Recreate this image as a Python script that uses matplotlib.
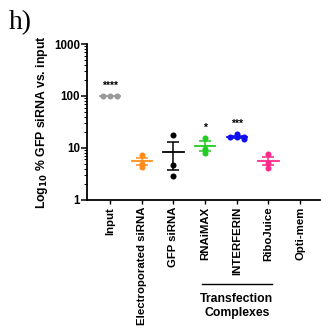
import numpy as np
import matplotlib
matplotlib.use("Agg")
import matplotlib.pyplot as plt
import matplotlib.transforms as mtransforms
from matplotlib.ticker import LogLocator, NullFormatter, FixedLocator, FixedFormatter

plt.rcParams['font.family'] = ['Liberation Sans', 'DejaVu Sans']
plt.rcParams['font.weight'] = 'bold'

# data
categories = ["Input", "Electroporated siRNA", "GFP siRNA", "RNAiMAX",
              "INTERFERIN", "RiboJuice", "Opti-mem"]
values = [
    [100, 100, 100],
    [7.3, 5.0, 4.3],
    [17.8, 4.7, 2.9],
    [15.8, 9.4, 7.9],
    [18.6, 16.0, 14.8, 16.5, 16.3],
    [7.6, 5.1, 4.2],
    [],
]
colors = ["#999999", "#ff8c1a", "#000000", "#22cc22", "#1010ee", "#ff2a8a", "#000000"]
stars = ["****", "", "", "*", "***", "", ""]
ytick_vals = [1, 10, 100, 1000]
ytick_labels = ["1", "10", "100", "1000"]


def swarm(vals, x0, dx=0.22, min_dist=0.035):
    # simple beeswarm: offset points that sit too close in log space
    placed = []
    xs = []
    for v in vals:
        lv = np.log10(v)
        for k in [0, 1, -1, 2, -2, 3, -3]:
            off = k * dx
            ok = all(abs(lv - pl) > min_dist or abs(off - po) >= dx * 0.99
                     for pl, po in placed)
            if ok:
                break
        placed.append((lv, off))
        xs.append(x0 + off)
    return xs


fig = plt.figure(figsize=(3.21, 3.31), dpi=100)
ax = fig.add_axes([0.271, 0.396, 0.726, 0.471])
ax.set_yscale('log')
ax.set_ylim(1, 1000)
ax.set_xlim(-0.73, 6.63)

for i, (vals, c) in enumerate(zip(values, colors)):
    if not vals:
        continue
    arr = np.array(vals, dtype=float)
    xs = swarm(arr, i)
    ax.scatter(xs, arr, s=19, color=c, zorder=3, linewidths=0)
    m = arr.mean()
    sem = arr.std(ddof=1) / np.sqrt(len(arr))
    ax.plot([i - 0.32, i + 0.32], [m, m], color=c, lw=1.3, zorder=2)
    if sem > 0:
        ax.errorbar(i, m, yerr=sem, color=c, lw=1.1, capsize=4.5, capthick=1.1,
                    fmt='none', zorder=2)
    if stars[i]:
        top = arr.max() if sem == 0 else max(arr.max(), m + sem)
        ax.text(i, top * 1.25, stars[i], ha='center', va='bottom',
                fontsize=7.5, fontweight='bold')

ax.spines['top'].set_visible(False)
ax.spines['right'].set_visible(False)
ax.spines['left'].set_linewidth(1.3)
ax.spines['bottom'].set_linewidth(1.3)

ax.yaxis.set_major_locator(FixedLocator(ytick_vals))
ax.yaxis.set_major_formatter(FixedFormatter(ytick_labels))
ax.yaxis.set_minor_locator(LogLocator(base=10, subs=np.arange(2, 10)))
ax.yaxis.set_minor_formatter(NullFormatter())
ax.tick_params(axis='y', which='major', length=4, width=1.1, labelsize=8.3, pad=1)
ax.tick_params(axis='y', which='minor', length=2, width=0.7)

ax.set_xticks(range(len(categories)))
ax.set_xticklabels(categories, rotation=90, fontsize=8.2, fontweight='bold')
ax.tick_params(axis='x', length=3, width=1.0, pad=2)
for lab in ax.get_yticklabels():
    lab.set_fontweight('bold')

ax.set_ylabel("Log$_{\\mathbf{10}}$ % GFP siRNA vs. input", fontsize=8.8,
              fontweight='bold', labelpad=3)

# bracket for transfection complexes
trans = mtransforms.blended_transform_factory(ax.transData, ax.transAxes)
ax.plot([2.9, 5.1], [-0.54, -0.54], color='black', lw=1.0, transform=trans,
        clip_on=False)
ax.text(4, -0.6, "Transfection\nComplexes", transform=trans, ha='center',
        va='top', fontsize=8.8, fontweight='bold', linespacing=1.15)

fig.text(0.028, 0.968, "h)", fontsize=20, family='Liberation Serif',
         fontweight='normal', va='top', ha='left')

fig.savefig("out.png", dpi=100)
